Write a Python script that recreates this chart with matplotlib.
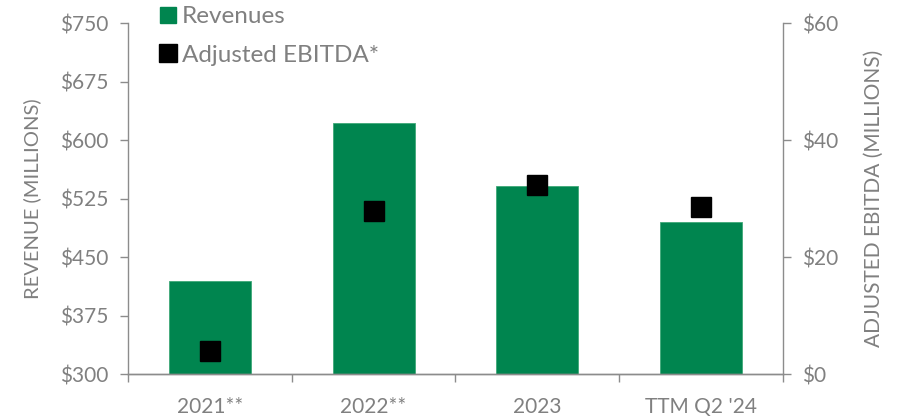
import numpy as np
import matplotlib.pyplot as plt
from matplotlib.lines import Line2D

plt.rcParams['font.family'] = ['Lato', 'DejaVu Sans']

categories = ["2021**", "2022**", "2023", "TTM Q2 '24"]
revenues = [419, 622, 541, 495]          # $ millions, left axis
adj_ebitda = [4.0, 27.9, 32.3, 28.6]      # $ millions, right axis

rev_ticks = [300, 375, 450, 525, 600, 675, 750]
ebitda_ticks = [0, 20, 40, 60]

GREEN = '#00854F'
GREY = '#808080'
SPINE = '#8C8C8C'

fig = plt.figure(figsize=(8.97, 4.17), dpi=100)
ax = fig.add_axes([0.1427, 0.1024, 0.7302, 0.8424])
x = np.arange(len(categories))

ax.bar(x, revenues, width=0.5, color=GREEN, edgecolor='#3FA878', linewidth=0.6, zorder=2)
ax.set_ylim(300, 750)
ax.set_yticks(rev_ticks)
ax.set_yticklabels([f"${v}" for v in rev_ticks])
ax.set_xlim(-0.5, len(categories) - 0.5)
ax.set_xticks(x)
ax.set_xticklabels(categories)
ax.set_xticks(np.arange(-0.5, len(categories)), minor=True)
ax.tick_params(axis='x', which='major', length=0, pad=16, labelsize=15, labelcolor=GREY)
ax.tick_params(axis='x', which='minor', length=6, color=SPINE, width=1)
ax.tick_params(axis='y', length=6, color=SPINE, width=1, labelsize=15, labelcolor=GREY, pad=8)
ax.set_ylabel("REVENUE (MILLIONS)", fontsize=14.5, color=GREY, labelpad=14)

ax2 = ax.twinx()
ax2.plot(x, adj_ebitda, linestyle='none', marker='s', markersize=14,
         color='black', zorder=3)
ax2.set_ylim(0, 60)
ax2.set_yticks(ebitda_ticks)
ax2.set_yticklabels([f"${v}" for v in ebitda_ticks])
ax2.tick_params(axis='y', length=6, color=SPINE, width=1, labelsize=15, labelcolor=GREY, pad=8)
ax2.set_ylabel("ADJUSTED EBITDA (MILLIONS)", fontsize=15, color=GREY,
               rotation=90, labelpad=18)

for a in (ax, ax2):
    a.spines['top'].set_visible(False)
    for side in ('left', 'right', 'bottom'):
        a.spines[side].set_color(SPINE)
        a.spines[side].set_linewidth(1)
ax.spines['right'].set_visible(False)
ax2.spines['left'].set_visible(False)

handles = [
    Line2D([], [], linestyle='none', marker='s', markersize=11, color=GREEN),
    Line2D([], [], linestyle='none', marker='s', markersize=13, color='black'),
]
fig.legend(handles, ["Revenues", "Adjusted EBITDA*"], loc='upper left',
           bbox_to_anchor=(0.151, 1.038), frameon=False, fontsize=17.5,
           labelcolor=GREY, handletextpad=0.15, handlelength=0.85,
           labelspacing=0.72)

fig.savefig("out.png", dpi=100)
